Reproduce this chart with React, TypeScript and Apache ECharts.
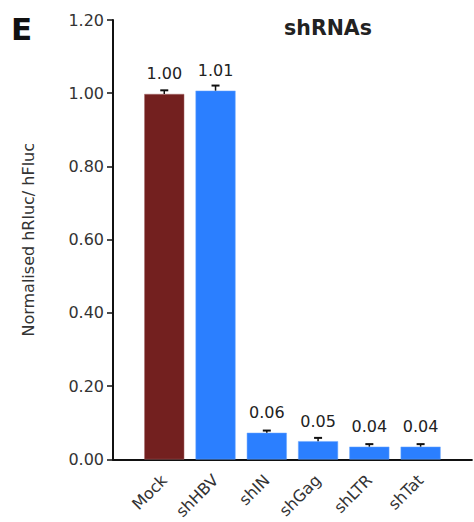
import React, { useEffect, useRef } from "react";
import * as echarts from "echarts";

const categories = ["Mock", "shHBV", "shIN", "shGag", "shLTR", "shTat"];
const values = [0.998, 1.007, 0.073, 0.05, 0.035, 0.035];
const errors = [0.01, 0.014, 0.006, 0.009, 0.007, 0.007];
const valueLabels = ["1.00", "1.01", "0.06", "0.05", "0.04", "0.04"];
const barColors = ["#73201f", "#2b7fff", "#2b7fff", "#2b7fff", "#2b7fff", "#2b7fff"];
const yTicks = [0, 0.2, 0.4, 0.6, 0.8, 1.0, 1.2];

const FONT = "DejaVu Sans";

export default function App() {
  const ref = useRef<HTMLDivElement>(null);
  useEffect(() => {
    if (!ref.current) return;
    const chart = echarts.init(ref.current, undefined, { renderer: "svg" });
    const option: any = {
      animation: false,
      textStyle: { fontFamily: FONT },
      graphic: [
        {
          type: "text",
          left: 11,
          top: 13,
          style: { text: "E", font: `bold 31px '${FONT}'`, fill: "#111" },
        },
      ],
      title: {
        text: "shRNAs",
        left: 323,
        top: 12,
        textAlign: "center",
        textStyle: { fontFamily: FONT, fontSize: 20.5, fontWeight: "bold", color: "#222" },
      },
      grid: { left: 113, right: 0, top: 20, bottom: 62, containLabel: false },
      xAxis: {
        type: "value",
        min: -1,
        max: 6,
        interval: 1,
        splitLine: { show: false },
        axisLine: { show: true, onZero: false, lineStyle: { color: "#111", width: 2 } },
        axisTick: { show: false },
        axisLabel: {
          rotate: 45,
          margin: 18,
          fontSize: 16,
          color: "#333",
          fontFamily: FONT,
          showMinLabel: true,
          showMaxLabel: true,
          formatter: (v: number) => (v >= 0 && v < categories.length ? categories[v] : ""),
        },
      },
      yAxis: {
        type: "value",
        min: 0,
        max: yTicks[yTicks.length - 1],
        interval: 0.2,
        name: "Normalised hRluc/ hFluc",
        nameLocation: "middle",
        nameGap: 77,
        nameTextStyle: { fontSize: 16, color: "#333", fontFamily: FONT },
        splitLine: { show: false },
        axisLine: { show: true, onZero: false, lineStyle: { color: "#111", width: 2 } },
        axisTick: { show: true, length: 6, lineStyle: { color: "#111", width: 1.5 } },
        axisLabel: {
          fontSize: 16,
          color: "#333",
          margin: 9,
          fontFamily: FONT,
          formatter: (v: number) => v.toFixed(2),
        },
      },
      series: [
        {
          type: "bar",
          barWidth: 40,
          data: values.map((v, i) => ({
            value: [i, v],
            itemStyle: {
              color: barColors[i],
              borderColor: i === 0 ? "#a86a6a" : "#6aa6ff",
              borderWidth: 0.5,
            },
            label: {
              show: true,
              position: "top",
              distance: 12,
              formatter: valueLabels[i],
              fontSize: 16,
              color: "#222",
              fontFamily: FONT,
            },
          })),
          z: 2,
        },
        {
          type: "custom",
          z: 5,
          data: values.map((v, i) => [i, v, v + errors[i]]),
          renderItem: (params: any, api: any) => {
            const x = api.value(0);
            const lo = api.coord([x, api.value(1)]);
            const hi = api.coord([x, api.value(2)]);
            const hw = 4;
            return {
              type: "group",
              children: [
                {
                  type: "line",
                  shape: { x1: lo[0], y1: lo[1], x2: hi[0], y2: hi[1] },
                  style: { stroke: "#111", lineWidth: 1.5 },
                },
                {
                  type: "line",
                  shape: { x1: hi[0] - hw, y1: hi[1], x2: hi[0] + hw, y2: hi[1] },
                  style: { stroke: "#111", lineWidth: 2 },
                },
              ],
            };
          },
        },
      ],
    };
    chart.setOption(option);
    return () => chart.dispose();
  }, []);
  return (
    <div
      ref={ref}
      style={{ position: "fixed", left: 0, top: 0, width: 474, height: 522, background: "#fff" }}
    />
  );
}
